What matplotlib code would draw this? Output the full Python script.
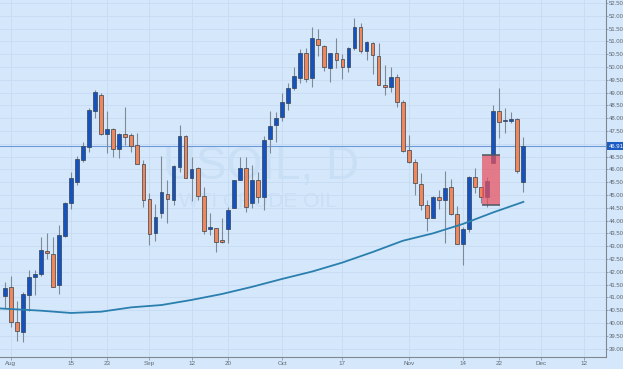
import matplotlib
matplotlib.use('Agg')
import matplotlib.pyplot as plt
from matplotlib.patches import Rectangle
import numpy as np

# ---- data (weekday index 0 = Aug 1) ----
day_idx = list(range(-1, 86))
opens = [41.07, 41.42, 40.03, 39.66, 41.11, 41.78, 41.93, 42.83, 42.70, 41.48,
         43.40, 44.70, 45.52, 46.35, 46.89, 48.28, 48.91, 47.37, 47.57, 46.78,
         47.37, 47.34, 46.94, 46.22, 44.83, 43.52, 44.31, 45.03, 44.80, 46.11,
         47.31, 45.65, 46.04, 44.97, 43.68, 43.70, 43.23, 43.69, 44.51, 45.59,
         46.04, 44.69, 45.60, 44.94, 47.17, 47.73, 48.06, 48.61, 49.19, 49.56,
         50.56, 49.56, 51.08, 50.82, 49.95, 50.56, 50.30, 50.01, 50.73, 51.58,
         50.63, 50.93, 50.42, 49.30, 49.20, 49.60, 48.62, 46.76, 46.30, 45.43,
         44.61, 44.11, 44.91, 44.80, 45.30, 44.26, 43.09, 43.66, 45.72, 45.30,
         44.91, 46.26, 48.29, 47.88, 47.90, 47.97, 45.52]
highs = [41.61, 41.84, 40.86, 41.20, 42.06, 42.07, 43.36, 43.50, 43.37, 43.83,
         44.71, 45.89, 46.54, 47.08, 48.39, 49.10, 48.97, 48.28, 47.63, 47.44,
         48.45, 47.41, 47.44, 46.37, 45.07, 44.64, 46.54, 45.59, 46.17, 47.73,
         47.34, 46.50, 46.11, 45.30, 44.28, 43.72, 44.09, 44.54, 45.60, 46.50,
         46.50, 46.17, 45.91, 47.30, 48.30, 48.26, 48.98, 49.39, 49.99, 50.69,
         50.73, 51.58, 51.49, 50.86, 50.56, 51.12, 50.50, 50.80, 51.90, 51.71,
         51.02, 50.99, 50.92, 50.08, 50.01, 49.72, 48.71, 47.34, 46.40, 45.87,
         44.80, 44.96, 45.20, 45.95, 45.61, 44.57, 43.76, 45.74, 46.04, 45.30,
         45.72, 48.52, 49.17, 48.39, 48.26, 48.02, 47.28]
lows = [40.60, 39.86, 39.30, 39.25, 40.48, 41.09, 41.85, 42.51, 41.40, 41.13,
        43.37, 44.45, 45.39, 46.30, 46.69, 48.00, 47.34, 46.63, 46.50, 46.46,
        46.95, 46.67, 46.22, 44.54, 43.05, 43.20, 44.11, 43.89, 44.61, 45.91,
        45.65, 44.78, 44.81, 43.48, 43.44, 42.79, 43.11, 43.11, 44.48, 45.59,
        44.35, 44.48, 44.67, 44.41, 46.63, 47.08, 47.90, 48.32, 49.10, 49.36,
        49.43, 49.21, 50.43, 49.86, 49.43, 49.95, 49.52, 49.82, 50.66, 50.53,
        50.27, 49.71, 49.28, 48.92, 49.04, 48.45, 46.67, 46.24, 45.00, 44.41,
        43.61, 44.09, 44.44, 43.11, 44.22, 43.09, 42.27, 43.57, 45.09, 44.70,
        44.54, 46.26, 47.21, 47.43, 47.80, 45.85, 45.13]
closes = [41.37, 40.05, 39.69, 41.13, 41.78, 41.93, 42.84, 42.72, 41.42, 43.42,
          44.67, 45.68, 46.39, 46.93, 48.32, 49.01, 47.37, 47.57, 46.78, 47.37,
          47.28, 46.91, 46.22, 44.80, 43.46, 44.15, 45.13, 44.84, 46.13, 47.31,
          45.68, 46.02, 44.95, 43.61, 43.72, 43.18, 43.15, 44.40, 45.60, 46.04,
          44.54, 45.57, 44.92, 47.15, 47.71, 48.02, 48.64, 49.17, 49.66, 50.56,
          49.52, 51.12, 50.86, 49.99, 50.53, 50.27, 50.01, 50.76, 51.55, 50.63,
          50.97, 50.47, 49.29, 49.21, 49.59, 48.62, 46.73, 46.30, 45.46, 44.61,
          44.09, 44.93, 44.80, 45.29, 44.26, 43.09, 43.67, 45.72, 45.30, 44.91,
          45.55, 48.30, 47.87, 47.93, 47.97, 45.95, 46.91]

ma_idx = [-2, 5, 10, 15, 20, 25, 30, 35, 40, 45, 50, 55, 60, 65, 70, 75, 80, 85]
ma_val = [40.57, 40.48, 40.39, 40.44, 40.61, 40.70, 40.90, 41.13, 41.41, 41.72,
          42.01, 42.36, 42.77, 43.21, 43.50, 43.87, 44.32, 44.73]

tick_idx = [0, 10, 16, 23, 30, 36, 45, 55, 66, 75, 81, 88, 95]
tick_labels = ['Aug', '15', '23', 'Sep', '12', '20', 'Oct', '17', 'Nov', '14', '22', 'Dec', '12']

price_ticks = list(np.arange(39.0, 52.51, 0.5))
last_price = 46.91
box_idx = (78.1, 81.1)
box_price = (44.60, 46.55)

BG = '#d5e8fb'
UP = '#1452c2'
DOWN = '#f0875a'
FONT = ['Liberation Sans', 'DejaVu Sans']

fig = plt.figure(figsize=(6.23, 3.69), dpi=100)
fig.patch.set_facecolor(BG)
ax = fig.add_axes([0, 12 / 369, 606 / 623, 357 / 369])
ax.set_facecolor(BG)
ax.set_xlim(-1.77, 98.7)
ax.set_ylim(38.67, 52.617)

# grid
for p in price_ticks:
    ax.axhline(p, color='#c6dcf3', lw=0.6, zorder=0)
for t in tick_idx:
    ax.axvline(t, color='#c6dcf3', lw=0.6, zorder=0)

# watermark
ax.text(41.5, 46.1, 'USOIL, D', fontsize=33, color='#c9dff5', ha='center', va='center',
        family=FONT, zorder=0.5)
ax.text(41.0, 44.75, 'WTI CRUDE OIL', fontsize=15, color='#c9dff5', ha='center', va='center',
        family=FONT, zorder=0.5)

# MA line
ax.plot(ma_idx, ma_val, color='#2a7fae', lw=1.3, zorder=4)

# candles
o = np.array(opens); c = np.array(closes)
h = np.array(highs); l = np.array(lows)
x = np.array(day_idx)
up = c >= o
cols = [UP if u else DOWN for u in up]
ax.vlines(x, l, h, color='#7e8a96', lw=0.8, zorder=2)
heights = np.maximum(np.abs(c - o), 0.05)
ax.bar(x, heights, bottom=np.minimum(o, c), width=0.62, color=cols,
       edgecolor='#36424e', linewidth=0.5, zorder=3)

# highlighted box
ax.add_patch(Rectangle((box_idx[0], box_price[0]), box_idx[1] - box_idx[0],
                       box_price[1] - box_price[0], facecolor='#e8505f', alpha=0.72,
                       edgecolor='none', zorder=5))
ax.hlines([box_price[0], box_price[1]], box_idx[0], box_idx[1], color='#4a5862', lw=1.1, zorder=6)

# last price line
ax.axhline(last_price, color='#6b98d8', lw=0.8, zorder=1.5)
ax.text(1.004, last_price, f'{last_price:.2f}', transform=ax.get_yaxis_transform(),
        ha='left', va='center', fontsize=4.3, color='white', clip_on=False, zorder=10,
        family=FONT,
        bbox=dict(boxstyle='square,pad=0.3', fc='#1b5cc4', ec='none'))

# axes styling
for s in ['top', 'left']:
    ax.spines[s].set_visible(False)
for s in ['right', 'bottom']:
    ax.spines[s].set_color('#7f8891')
    ax.spines[s].set_linewidth(0.8)
ax.yaxis.tick_right()
ax.set_yticks(price_ticks)
ax.set_yticklabels(['' if abs(p - 47.0) < 1e-6 else f'{p:.2f}' for p in price_ticks])
ax.set_xticks(tick_idx)
ax.set_xticklabels(tick_labels)
ax.tick_params(axis='y', labelsize=4.3, colors='#7f8891', labelcolor='#5d6670', length=1.5, width=0.5, pad=0.8)
ax.tick_params(axis='x', labelsize=4.5, colors='#7f8891', labelcolor='#5d6670', length=2, width=0.5, pad=1)
for lab in ax.get_yticklabels() + ax.get_xticklabels():
    lab.set_family(FONT)

fig.savefig('out.png', dpi=100, facecolor=BG)
